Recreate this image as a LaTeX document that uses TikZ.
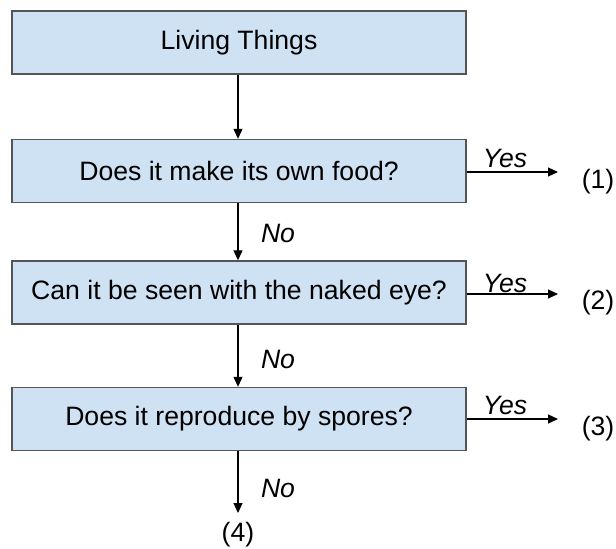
\documentclass[tikz,border=0pt]{standalone}
\usepackage{fontspec}
\setmainfont{Liberation Sans}
\usetikzlibrary{arrows.meta}
\definecolor{boxfill}{HTML}{CFE2F3}
\definecolor{boxline}{HTML}{555555}
\tikzset{
  qbox/.style={draw=boxline, line width=1.4pt, fill=boxfill, minimum width=454pt, minimum height=63pt, inner sep=0pt, font=\fontsize{26.6}{30}\selectfont},
  conn/.style={line width=1.2pt, -{Triangle[length=10pt,width=9pt]}},
  lbl/.style={font=\fontsize{26.6}{30}\selectfont\itshape, inner sep=0pt},
  res/.style={font=\fontsize{26.6}{30}\selectfont, inner sep=0pt}
}
\begin{document}
\begin{tikzpicture}[x=1pt,y=1pt]
\useasboundingbox (0,0) rectangle (616,-549);
\fill[white] (0,0) rectangle (616,-549);
\node[qbox] (b1) at (239,-42.5) {Living Things};
\node[qbox] (b2) at (239,-171) {Does it make its own food?};
\node[qbox] (b3) at (239,-292.5) {Can it be seen with the naked eye?};
\node[qbox] (b4) at (239,-419) {Does it reproduce by spores?};
\coordinate (e1) at (558,-172);
\coordinate (e2) at (558,-294);
\coordinate (e3) at (558,-419);
\coordinate (e4) at (238,-513);
\node[res] (r1) at (598,-182) {(1)};
\node[res] (r2) at (598,-303) {(2)};
\node[res] (r3) at (598,-429) {(3)};
\node[res] (r4) at (238,-535) {(4)};
\draw[conn] (b1.south -| 238,0) -- (b2.north -| 238,0);
\draw[conn] (b2.south -| 238,0) -- (b3.north -| 238,0);
\draw[conn] (b3.south -| 238,0) -- (b4.north -| 238,0);
\draw[conn] (b4.south -| 238,0) -- (e4);
\draw[conn] (b2.east |- e1) -- (e1);
\draw[conn] (b3.east |- e2) -- (e2);
\draw[conn] (b4.east |- e3) -- (e3);
\node[lbl] (y1) at (505,-158) {Yes};
\node[lbl] (y2) at (505,-283) {Yes};
\node[lbl] (y3) at (505,-405) {Yes};
\node[lbl] (n1) at (278,-233) {No};
\node[lbl] (n2) at (278,-359) {No};
\node[lbl] (n3) at (278,-488) {No};
\end{tikzpicture}
\end{document}
